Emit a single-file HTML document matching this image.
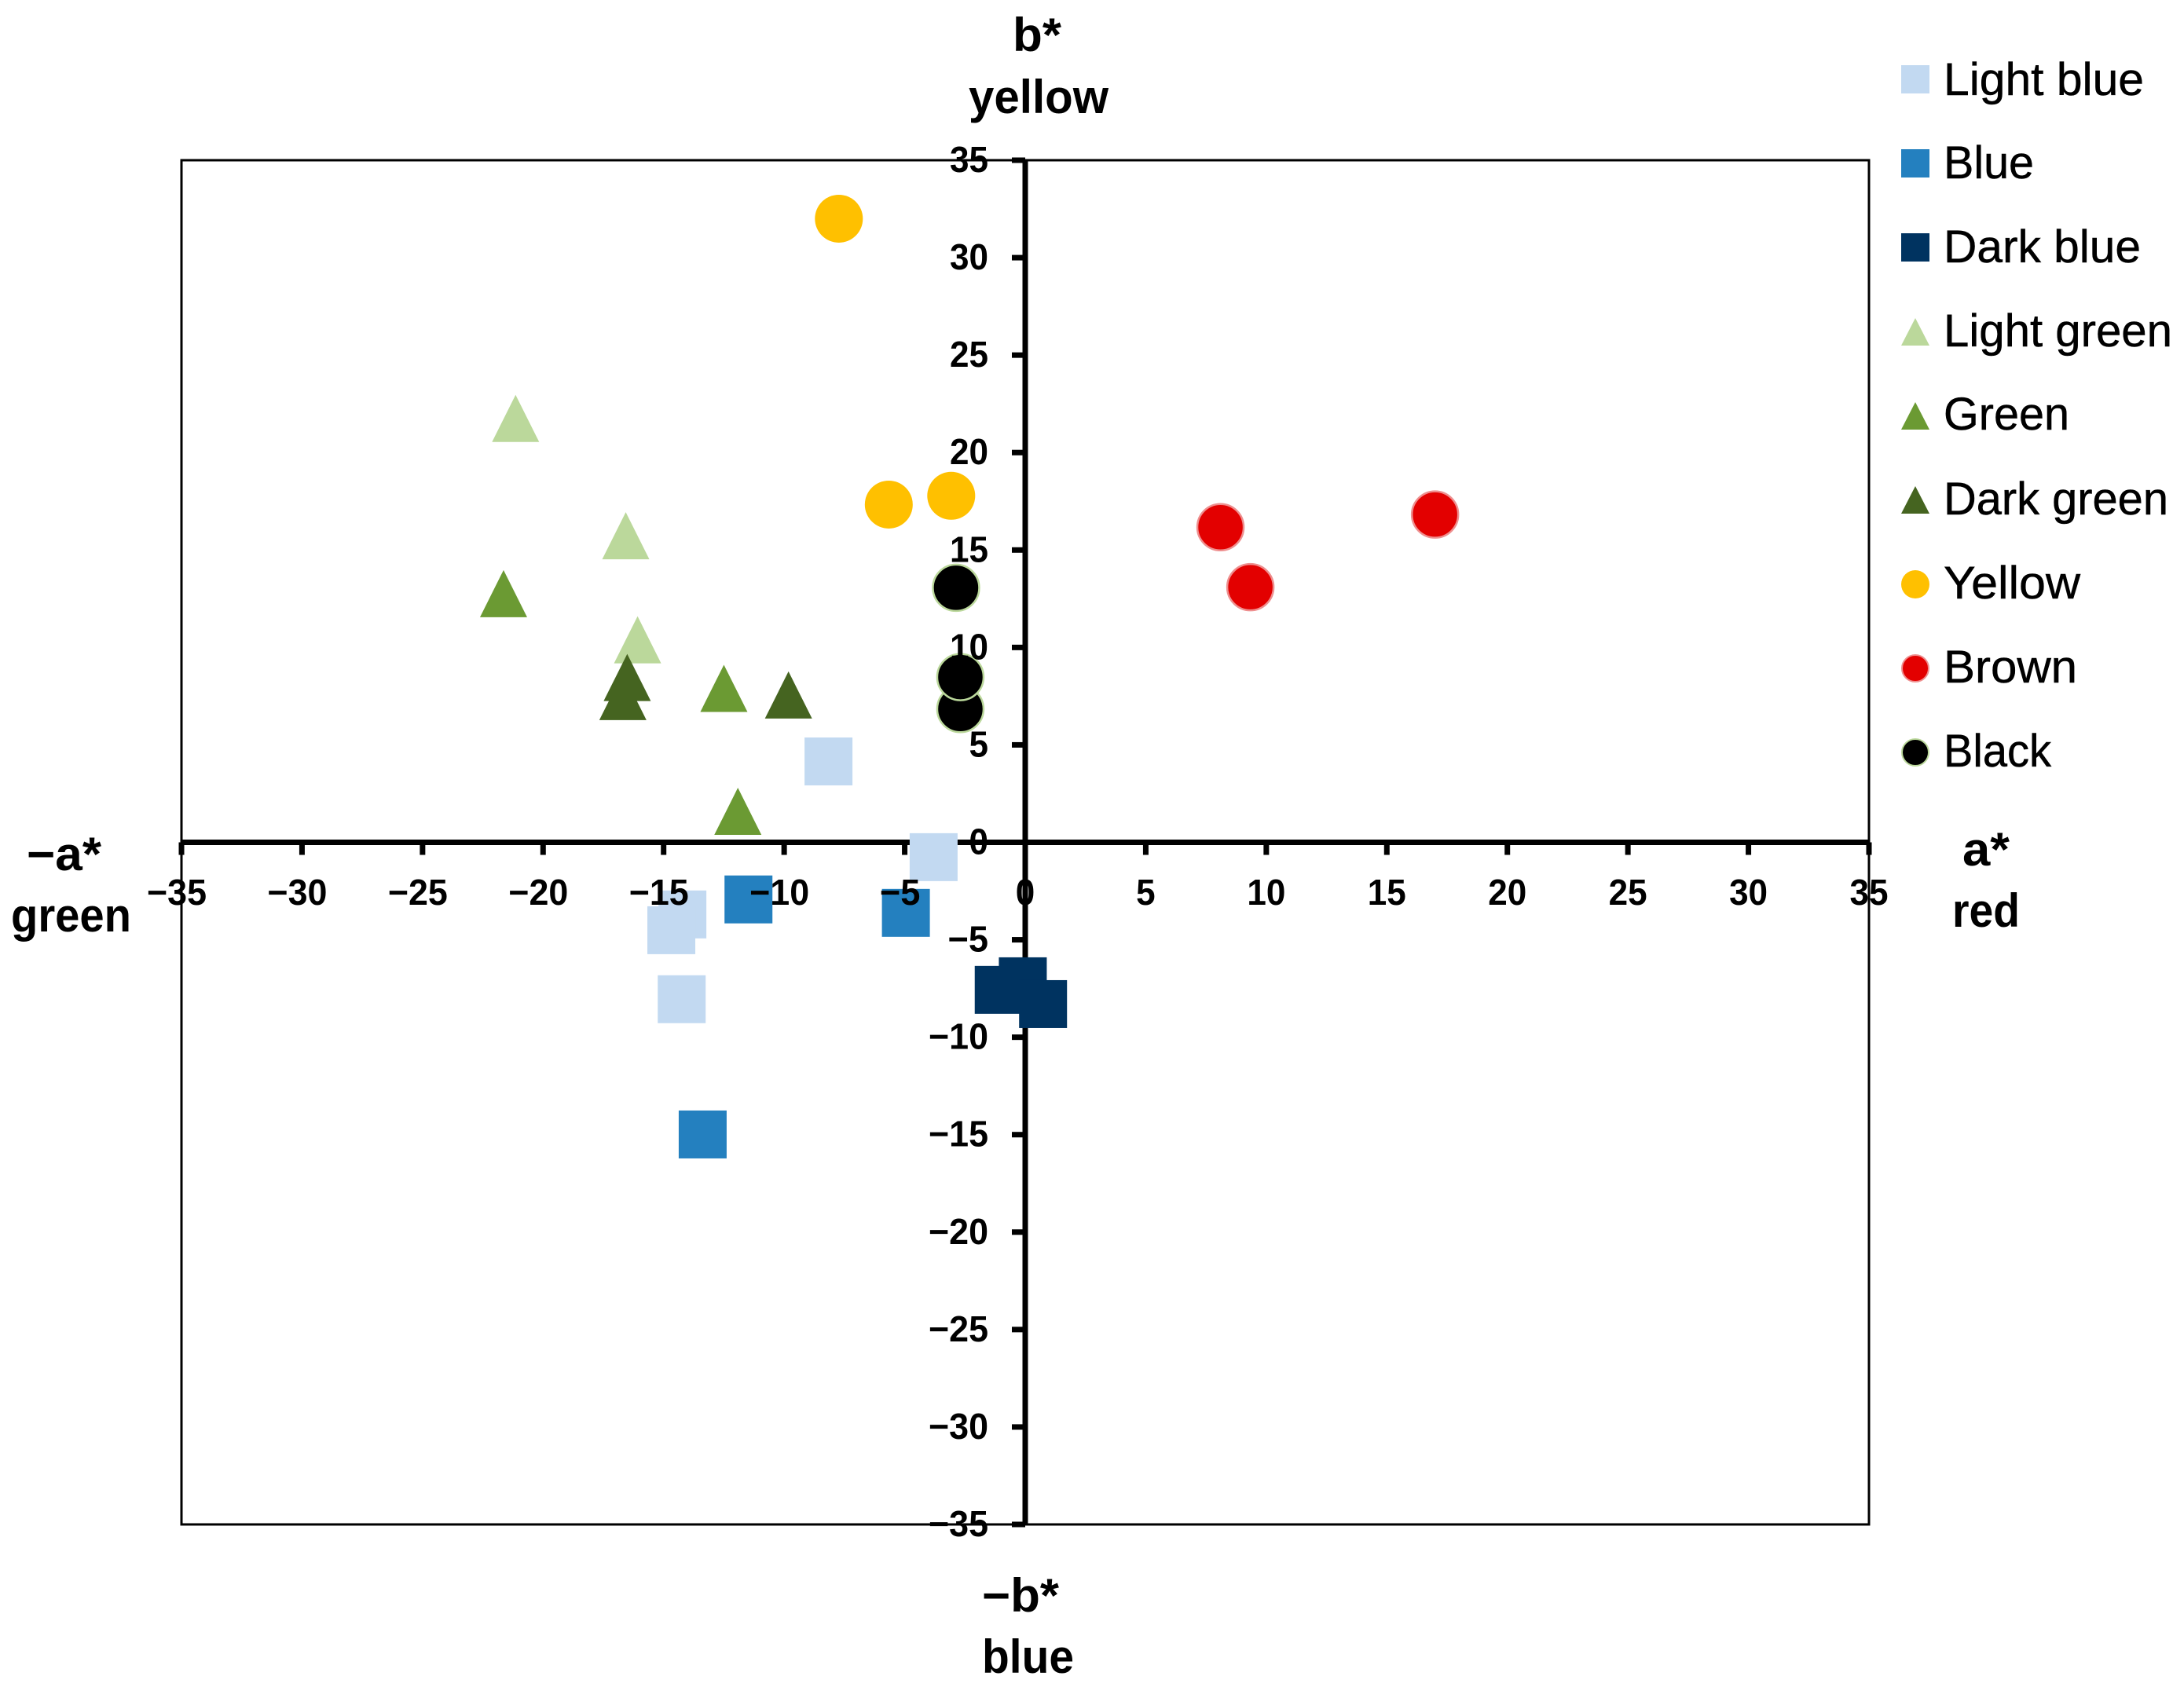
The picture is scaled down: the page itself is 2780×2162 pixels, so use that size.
<!DOCTYPE html>
<html lang="en">
<head>
<meta charset="utf-8">
<title>CIELAB a* b* scatter chart</title>
<style>
html,body{margin:0;padding:0;background:#fff;}
svg{display:block;}
text{font-family:"Liberation Sans",sans-serif;fill:#000;}
.tick{font-size:46px;font-weight:700;}
.title{font-size:60px;font-weight:700;}
.leg{font-size:58px;stroke:#000;stroke-width:.5px;}
</style>
</head>
<body>
<svg id="chart" xmlns="http://www.w3.org/2000/svg" width="2780" height="2162" viewBox="0 0 2780 2162">
  <rect x="0" y="0" width="2780" height="2162" fill="#fff"/>
  <rect x="231" y="204" width="2148" height="1737" fill="none" stroke="#000" stroke-width="3"/>
  <g id="axes"></g>
  <g id="marks"></g>
  <g id="labels"></g>

  <text class="title" x="1289" y="65" textLength="62" lengthAdjust="spacingAndGlyphs">b*</text>
  <text class="title" x="1233" y="144" textLength="178" lengthAdjust="spacingAndGlyphs">yellow</text>
  <text class="title" x="34" y="1108" textLength="95" lengthAdjust="spacingAndGlyphs">−a*</text>
  <text class="title" x="14" y="1186" textLength="153" lengthAdjust="spacingAndGlyphs">green</text>
  <text class="title" x="2498" y="1102" textLength="60" lengthAdjust="spacingAndGlyphs">a*</text>
  <text class="title" x="2485" y="1180" textLength="86" lengthAdjust="spacingAndGlyphs">red</text>
  <text class="title" x="1250" y="2052" textLength="98" lengthAdjust="spacingAndGlyphs">−b*</text>
  <text class="title" x="1250" y="2130" textLength="117" lengthAdjust="spacingAndGlyphs">blue</text>

  <g>
    <g>
      <rect x="2420" y="83" width="36" height="36" fill="#C2D9F1"/>
      <text class="leg" x="2474" y="121" textLength="255" lengthAdjust="spacingAndGlyphs">Light blue</text>
    </g>
    <g>
      <rect x="2420" y="190" width="36" height="36" fill="#2480BF"/>
      <text class="leg" x="2474" y="227" textLength="115" lengthAdjust="spacingAndGlyphs">Blue</text>
    </g>
    <g>
      <rect x="2420" y="297" width="36" height="36" fill="#003360"/>
      <text class="leg" x="2474" y="334" textLength="251" lengthAdjust="spacingAndGlyphs">Dark blue</text>
    </g>
    <g>
      <polygon points="2420,440 2438,405 2456,440" fill="#BBD89B"/>
      <text class="leg" x="2474" y="441" textLength="291" lengthAdjust="spacingAndGlyphs">Light green</text>
    </g>
    <g>
      <polygon points="2420,547 2438,512 2456,547" fill="#6B9A33"/>
      <text class="leg" x="2474" y="547" textLength="160" lengthAdjust="spacingAndGlyphs">Green</text>
    </g>
    <g>
      <polygon points="2420,654 2438,619 2456,654" fill="#456420"/>
      <text class="leg" x="2474" y="655" textLength="286" lengthAdjust="spacingAndGlyphs">Dark green</text>
    </g>
    <g>
      <circle cx="2438" cy="744" r="18" fill="#FFC000"/>
      <text class="leg" x="2474" y="762" textLength="174" lengthAdjust="spacingAndGlyphs">Yellow</text>
    </g>
    <g>
      <circle cx="2438" cy="851" r="17" fill="#E30000" stroke="#EE8F8F" stroke-width="2"/>
      <text class="leg" x="2474" y="869" textLength="170" lengthAdjust="spacingAndGlyphs">Brown</text>
    </g>
    <g>
      <circle cx="2438" cy="958" r="17" fill="#000" stroke="#BBD89B" stroke-width="2"/>
      <text class="leg" x="2474" y="976" textLength="137" lengthAdjust="spacingAndGlyphs">Black</text>
    </g>
  </g>
</svg>
<script>
const xTickValues = [-35,-30,-25,-20,-15,-10,-5,0,5,10,15,20,25,30,35];
const yTickValues = [35,30,25,20,15,10,5,0,-5,-10,-15,-20,-25,-30,-35];

const lightBlueA = [-3.80,-14.22,-14.68,-14.25,-8.16];
const lightBlueB = [-0.76,-3.70,-4.51,-8.05,4.15];
const blueA = [-11.48,-4.95,-13.38];
const blueB = [-2.93,-3.62,-14.99];
const darkBlueA = [-1.10,-0.10,0.74];
const darkBlueB = [-7.57,-7.13,-8.30];
const lightGreenA = [-21.14,-16.57,-16.08];
const lightGreenB = [21.75,15.73,10.39];
const greenA = [-21.64,-12.50,-11.92];
const greenB = [12.76,7.90,1.59];
const darkGreenA = [-16.69,-16.51,-9.82];
const darkGreenB = [7.48,8.46,7.56];
const yellowA = [-7.73,-5.66,-3.07];
const yellowB = [32.00,17.33,17.78];
const brownA = [8.10,9.34,17.00];
const brownB = [16.17,13.09,16.82];
const blackA = [-2.69,-2.69,-2.87];
const blackB = [6.84,8.48,13.06];

const NS = 'http://www.w3.org/2000/svg';
const plotLeft = 231, plotRight = 2379, plotTop = 204, plotBottom = 1941;
function xScale(a){ return plotLeft + (a + 35) / 70 * (plotRight - plotLeft); }
function yScale(b){ return plotTop + (35 - b) / 70 * (plotBottom - plotTop); }
function make(tag, attrs, parent){
  const node = document.createElementNS(NS, tag);
  for (const k in attrs) node.setAttribute(k, attrs[k]);
  parent.appendChild(node);
  return node;
}
function fmt(v){ return v < 0 ? '\u2212' + Math.abs(v) : String(v); }
function labelWidth(s){
  let w = 0;
  for (const c of s) w += (c === '\u2212') ? 27 : 24.5;
  return w;
}

const axes = document.getElementById('axes');
const marks = document.getElementById('marks');
const labels = document.getElementById('labels');

const xAxisLine = make('rect', {x:plotLeft, y:yScale(0)-3.5, width:plotRight-plotLeft, height:7, fill:'#000'}, axes);


const yAxisLine = make('rect', {x:xScale(0)-3.5, y:plotTop, width:7, height:plotBottom-plotTop, fill:'#000'}, axes);



xTickValues.forEach(function(v){
  const t = make('rect', {x:xScale(v)-3.5, y:yScale(0), width:7, height:16, fill:'#000'}, axes);
  
  
  const s = fmt(v);
  const w = labelWidth(s);
  const cx = xScale(v) - (v < 0 ? 6 : 0);
  const l = make('text', {class:'tick', x:cx - w/2, y:1152, textLength:w, lengthAdjust:'spacingAndGlyphs'}, labels);
  l.textContent = s;
  
  
});
yTickValues.forEach(function(v){
  const t = make('rect', {x:xScale(0)-17, y:yScale(v)-3.5, width:17, height:7, fill:'#000'}, axes);
  
  
  const s = fmt(v);
  const w = labelWidth(s);
  const l = make('text', {class:'tick', x:1258 - w, y:yScale(v)+15, textLength:w, lengthAdjust:'spacingAndGlyphs'}, labels);
  l.textContent = s;
  
  
});

function squares(as, bs, fill, name){
  as.forEach(function(a, i){
    const m = make('rect', {x:xScale(a)-30.5, y:yScale(bs[i])-30.5, width:61, height:61, fill:fill}, marks);
    
    
  });
}
function triangles(as, bs, fill, name){
  as.forEach(function(a, i){
    const x = xScale(a), y = yScale(bs[i]);
    const p = (x-30)+','+(y+30)+' '+x+','+(y-30)+' '+(x+30)+','+(y+30);
    const m = make('polygon', {points:p, fill:fill}, marks);
    
    
  });
}
function circles(as, bs, fill, stroke, name){
  as.forEach(function(a, i){
    const m = make('circle', {cx:xScale(a), cy:yScale(bs[i]), r:stroke ? 29.5 : 30.5, fill:fill, stroke:stroke || 'none', 'stroke-width':stroke ? 2.5 : 0}, marks);
    
    
  });
}
squares(lightBlueA, lightBlueB, '#C2D9F1', 'point-light-blue');
squares(blueA, blueB, '#2480BF', 'point-blue');
squares(darkBlueA, darkBlueB, '#003360', 'point-dark-blue');
triangles(lightGreenA, lightGreenB, '#BBD89B', 'point-light-green');
triangles(greenA, greenB, '#6B9A33', 'point-green');
triangles(darkGreenA, darkGreenB, '#456420', 'point-dark-green');
circles(yellowA, yellowB, '#FFC000', null, 'point-yellow');
circles(brownA, brownB, '#E30000', '#EE8F8F', 'point-brown');
circles(blackA, blackB, '#000', '#BBD89B', 'point-black');
</script>
</body>
</html>
